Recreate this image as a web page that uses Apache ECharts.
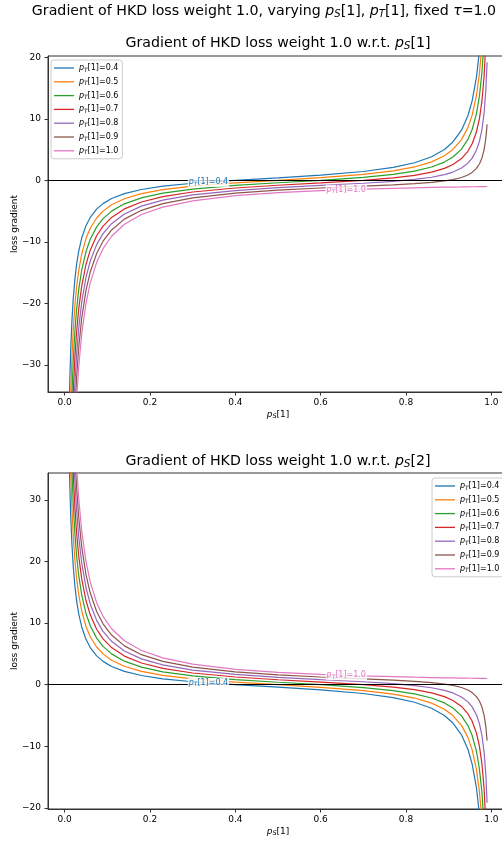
<!DOCTYPE html>
<html><head><meta charset="utf-8">
<script src="https://cdn.jsdelivr.net/npm/echarts@6/dist/echarts.min.js"></script>
<style>html,body{margin:0;padding:0;background:#fff}#c{width:502px;height:843px}</style>
</head><body><div id="c"></div>
<script>
// p_S[1] sample positions
const xValues = [0.01, 0.012, 0.014, 0.017, 0.02, 0.024, 0.028, 0.033, 0.04, 0.05, 0.06, 0.075, 0.09, 0.11, 0.14, 0.18, 0.23, 0.3, 0.4, 0.5, 0.6, 0.7, 0.77, 0.82, 0.86, 0.89, 0.91, 0.93, 0.945, 0.955, 0.965, 0.972, 0.978, 0.983, 0.987, 0.99];
const teacherLabels = ['0.4', '0.5', '0.6', '0.7', '0.8', '0.9', '1.0'];
const xTicks = [0, 0.2, 0.4, 0.6, 0.8, 1.0];
const yTicksTop = [-30, -20, -10, 0, 10, 20];
const yTicksBottom = [-20, -10, 0, 10, 20, 30];

// Top panel: gradient w.r.t. p_S[1]
const top04 = [-39.39, -32.73, -27.96, -22.92, -19.39, -16.05, -13.67, -11.50, -9.38, -7.37, -6.03, -4.69, -3.79, -2.96, -2.16, -1.49, -0.96, -0.48, 0.00, 0.40, 0.83, 1.43, 2.09, 2.85, 3.82, 5.01, 6.23, 8.14, 10.49, 12.91, 16.73, 21.02, 26.86, 34.89, 45.75, 59.60];
const top05 = [-49.50, -41.16, -35.21, -28.90, -24.49, -20.32, -17.34, -14.63, -11.98, -9.47, -7.80, -6.13, -5.01, -3.98, -2.99, -2.17, -1.52, -0.95, -0.42, 0.00, 0.42, 0.95, 1.52, 2.17, 2.99, 3.98, 5.01, 6.61, 8.56, 10.59, 13.77, 17.34, 22.22, 28.90, 37.96, 49.50];
const top06 = [-59.60, -49.60, -42.45, -34.89, -29.59, -24.59, -21.02, -17.77, -14.58, -11.58, -9.57, -7.57, -6.23, -5.01, -3.82, -2.85, -2.09, -1.43, -0.83, -0.40, 0.00, 0.48, 0.96, 1.49, 2.16, 2.96, 3.79, 5.07, 6.64, 8.26, 10.81, 13.67, 17.57, 22.92, 30.16, 39.39];
const top07 = [-69.70, -58.03, -49.70, -40.87, -34.69, -28.86, -24.69, -20.90, -17.19, -13.68, -11.35, -9.01, -7.45, -6.03, -4.65, -3.52, -2.65, -1.90, -1.25, -0.80, -0.42, 0.00, 0.40, 0.81, 1.33, 1.94, 2.56, 3.53, 4.71, 5.93, 7.85, 9.99, 12.92, 16.94, 22.37, 29.29];
const top08 = [-79.80, -66.46, -56.94, -46.86, -39.80, -33.13, -28.37, -24.04, -19.79, -15.79, -13.12, -10.45, -8.67, -7.05, -5.48, -4.20, -3.22, -2.38, -1.67, -1.20, -0.83, -0.48, -0.17, 0.14, 0.50, 0.92, 1.34, 2.00, 2.79, 3.61, 4.89, 6.32, 8.27, 10.95, 14.57, 19.19];
const top09 = [-89.90, -74.90, -64.18, -52.84, -44.90, -37.40, -32.04, -27.17, -22.40, -17.89, -14.89, -11.89, -9.89, -8.07, -6.31, -4.88, -3.78, -2.86, -2.08, -1.60, -1.25, -0.95, -0.73, -0.54, -0.33, -0.10, 0.12, 0.46, 0.87, 1.28, 1.93, 2.65, 3.63, 4.97, 6.78, 9.09];
const top10 = [-100.00, -83.33, -71.43, -58.82, -50.00, -41.67, -35.71, -30.30, -25.00, -20.00, -16.67, -13.33, -11.11, -9.09, -7.14, -5.56, -4.35, -3.33, -2.50, -2.00, -1.67, -1.43, -1.30, -1.22, -1.16, -1.12, -1.10, -1.08, -1.06, -1.05, -1.04, -1.03, -1.02, -1.02, -1.01, -1.01];

// Bottom panel: gradient w.r.t. p_S[2]
const bot04 = [39.39, 32.73, 27.96, 22.92, 19.39, 16.05, 13.67, 11.50, 9.38, 7.37, 6.03, 4.69, 3.79, 2.96, 2.16, 1.49, 0.96, 0.48, 0.00, -0.40, -0.83, -1.43, -2.09, -2.85, -3.82, -5.01, -6.23, -8.14, -10.49, -12.91, -16.73, -21.02, -26.86, -34.89, -45.75, -59.60];
const bot05 = [49.50, 41.16, 35.21, 28.90, 24.49, 20.32, 17.34, 14.63, 11.98, 9.47, 7.80, 6.13, 5.01, 3.98, 2.99, 2.17, 1.52, 0.95, 0.42, 0.00, -0.42, -0.95, -1.52, -2.17, -2.99, -3.98, -5.01, -6.61, -8.56, -10.59, -13.77, -17.34, -22.22, -28.90, -37.96, -49.50];
const bot06 = [59.60, 49.60, 42.45, 34.89, 29.59, 24.59, 21.02, 17.77, 14.58, 11.58, 9.57, 7.57, 6.23, 5.01, 3.82, 2.85, 2.09, 1.43, 0.83, 0.40, 0.00, -0.48, -0.96, -1.49, -2.16, -2.96, -3.79, -5.07, -6.64, -8.26, -10.81, -13.67, -17.57, -22.92, -30.16, -39.39];
const bot07 = [69.70, 58.03, 49.70, 40.87, 34.69, 28.86, 24.69, 20.90, 17.19, 13.68, 11.35, 9.01, 7.45, 6.03, 4.65, 3.52, 2.65, 1.90, 1.25, 0.80, 0.42, 0.00, -0.40, -0.81, -1.33, -1.94, -2.56, -3.53, -4.71, -5.93, -7.85, -9.99, -12.92, -16.94, -22.37, -29.29];
const bot08 = [79.80, 66.46, 56.94, 46.86, 39.80, 33.13, 28.37, 24.04, 19.79, 15.79, 13.12, 10.45, 8.67, 7.05, 5.48, 4.20, 3.22, 2.38, 1.67, 1.20, 0.83, 0.48, 0.17, -0.14, -0.50, -0.92, -1.34, -2.00, -2.79, -3.61, -4.89, -6.32, -8.27, -10.95, -14.57, -19.19];
const bot09 = [89.90, 74.90, 64.18, 52.84, 44.90, 37.40, 32.04, 27.17, 22.40, 17.89, 14.89, 11.89, 9.89, 8.07, 6.31, 4.88, 3.78, 2.86, 2.08, 1.60, 1.25, 0.95, 0.73, 0.54, 0.33, 0.10, -0.12, -0.46, -0.87, -1.28, -1.93, -2.65, -3.63, -4.97, -6.78, -9.09];
const bot10 = [100.00, 83.33, 71.43, 58.82, 50.00, 41.67, 35.71, 30.30, 25.00, 20.00, 16.67, 13.33, 11.11, 9.09, 7.14, 5.56, 4.35, 3.33, 2.50, 2.00, 1.67, 1.43, 1.30, 1.22, 1.16, 1.12, 1.10, 1.08, 1.06, 1.05, 1.04, 1.03, 1.02, 1.02, 1.01, 1.01];

const topSeries = [top04, top05, top06, top07, top08, top09, top10];
const botSeries = [bot04, bot05, bot06, bot07, bot08, bot09, bot10];
const colors = ['#1f77b4', '#ff7f0e', '#2ca02c', '#d62728', '#9467bd', '#8c564b', '#e377c2'];
const names = teacherLabels.map(t => 'pT[1]=' + t);

const FF = "'DejaVu Sans', sans-serif";
const chart = echarts.init(document.getElementById('c'), null, {renderer: 'canvas'});

function pairs(ys) { return xValues.map((x, i) => [x, ys[i]]); }
function minus(v) { return v < 0 ? '\u2212' + (-v) : String(v); }

function richFor(fs, subFs, pad, color) {
  return {
    n: {fontSize: fs, fontFamily: FF, color: color, lineHeight: fs + 2},
    i: {fontSize: fs, fontFamily: FF, fontStyle: 'italic', color: color, lineHeight: fs + 2},
    s: {fontSize: subFs, fontFamily: FF, fontStyle: 'italic', color: color, lineHeight: subFs, padding: [pad, 0, 0, 0]}
  };
}
function pTlabel(name) { return '{i|p}{s|T}{n|' + name.slice(2) + '}'; }

const grids = [
  {left: 48, top: 56, width: 460, height: 336, show: true, borderColor: '#333', borderWidth: 1, backgroundColor: 'transparent', outerBoundsMode: 'none', containLabel: false},
  {left: 48, top: 473, width: 460, height: 336, show: true, borderColor: '#333', borderWidth: 1, backgroundColor: 'transparent', outerBoundsMode: 'none', containLabel: false}
];

function xAxisFor(gi) {
  return {
    type: 'value', gridIndex: gi, min: -0.039, max: 1.039,
    name: '{i|p}{s|S}{n|[1]}', nameLocation: 'middle', nameGap: 17, nameMoveOverlap: false,
    nameTextStyle: {rich: richFor(9, 6.5, 4, '#000')},
    axisLine: {show: true, onZero: false, lineStyle: {color: '#333', width: 1}},
    axisTick: {show: true, length: 3.5, lineStyle: {color: '#333'}, customValues: xTicks},
    axisLabel: {show: true, fontSize: 9, fontFamily: FF, color: '#000', margin: 6, customValues: xTicks,
      formatter: v => v.toFixed(1)},
    splitLine: {show: false}
  };
}
function yAxisFor(gi, mn, mx, ticks) {
  return {
    type: 'value', gridIndex: gi, min: mn, max: mx,
    name: 'loss gradient', nameLocation: 'middle', nameGap: 29, nameMoveOverlap: false,
    nameTextStyle: {fontSize: 9, fontFamily: FF, color: '#000'},
    axisLine: {show: true, onZero: false, lineStyle: {color: '#333', width: 1}},
    axisTick: {show: true, length: 3.5, lineStyle: {color: '#333'}, customValues: ticks},
    axisLabel: {show: true, fontSize: 9, fontFamily: FF, color: '#000', margin: 7, customValues: ticks,
      formatter: v => minus(v)},
    splitLine: {show: false}
  };
}

const series = [];
function addPanel(gi, data, labelSpecs) {
  data.forEach((ys, k) => {
    const s = {
      type: 'line', name: names[k], xAxisIndex: gi, yAxisIndex: gi,
      data: pairs(ys), symbol: 'none', showSymbol: false, smooth: false,
      lineStyle: {width: 1.2, color: colors[k]}, itemStyle: {color: colors[k]},
      animation: false, z: 2, clip: true
    };
    if (k === 0) {
      s.markLine = {silent: true, symbol: 'none', animation: false,
        data: [{yAxis: 0}], lineStyle: {color: '#000', width: 1, type: 'solid'}, label: {show: false}};
    }
    const spec = labelSpecs.find(l => l.k === k);
    if (spec) {
      s.markPoint = {
        silent: true, animation: false, symbol: 'rect', symbolSize: 1,
        itemStyle: {color: 'rgba(0,0,0,0)'},
        data: [{coord: spec.coord}],
        label: {show: true, position: 'inside', formatter: pTlabel(names[k]),
          backgroundColor: 'rgba(255,255,255,0.8)', padding: [0, 1, 0, 1],
          rich: richFor(8, 5.8, 4, colors[k])}
      };
    }
    series.push(s);
  });
}
addPanel(0, topSeries, [{k: 0, coord: [0.337, -0.28]}, {k: 6, coord: [0.66, -1.52]}]);
addPanel(1, botSeries, [{k: 0, coord: [0.337, 0.28]}, {k: 6, coord: [0.66, 1.52]}]);

function legendFor(left, top) {
  return {
    left: left, top: top, orient: 'vertical', data: names, selectedMode: false,
    icon: 'rect', itemWidth: 20, itemHeight: 1.3, itemGap: 3.8, padding: [3, 4, 3, 3],
    borderColor: '#ccc', borderWidth: 1, borderRadius: 3, backgroundColor: 'rgba(255,255,255,0.8)',
    textStyle: {fontSize: 8, fontFamily: FF, color: '#000', rich: richFor(8, 5.8, 4, '#000')},
    formatter: pTlabel
  };
}

const titleRich = richFor(14.2, 10, 6, '#000');
chart.setOption({
  backgroundColor: '#fff',
  animation: false,
  grid: grids,
  xAxis: [xAxisFor(0), xAxisFor(1)],
  yAxis: [yAxisFor(0, -34.4, 20.2, yTicksTop), yAxisFor(1, -20.2, 34.4, yTicksBottom)],
  legend: [legendFor(51, 60), legendFor(432, 478)],
  series: series,
  graphic: [
    {type: 'text', x: 264, y: 11, style: {text: '{n|Gradient of HKD loss weight 1.0, varying }{i|p}{s|S}{n|[1], }{i|p}{s|T}{n|[1], fixed }{i|\u03c4}{n|=1.0}',
      rich: titleRich, align: 'center', verticalAlign: 'middle'}},
    {type: 'text', x: 278, y: 43, style: {text: '{n|Gradient of HKD loss weight 1.0 w.r.t. }{i|p}{s|S}{n|[1]}',
      rich: titleRich, align: 'center', verticalAlign: 'middle'}},
    {type: 'text', x: 278, y: 461, style: {text: '{n|Gradient of HKD loss weight 1.0 w.r.t. }{i|p}{s|S}{n|[2]}',
      rich: titleRich, align: 'center', verticalAlign: 'middle'}}
  ]
});
</script></body></html>
